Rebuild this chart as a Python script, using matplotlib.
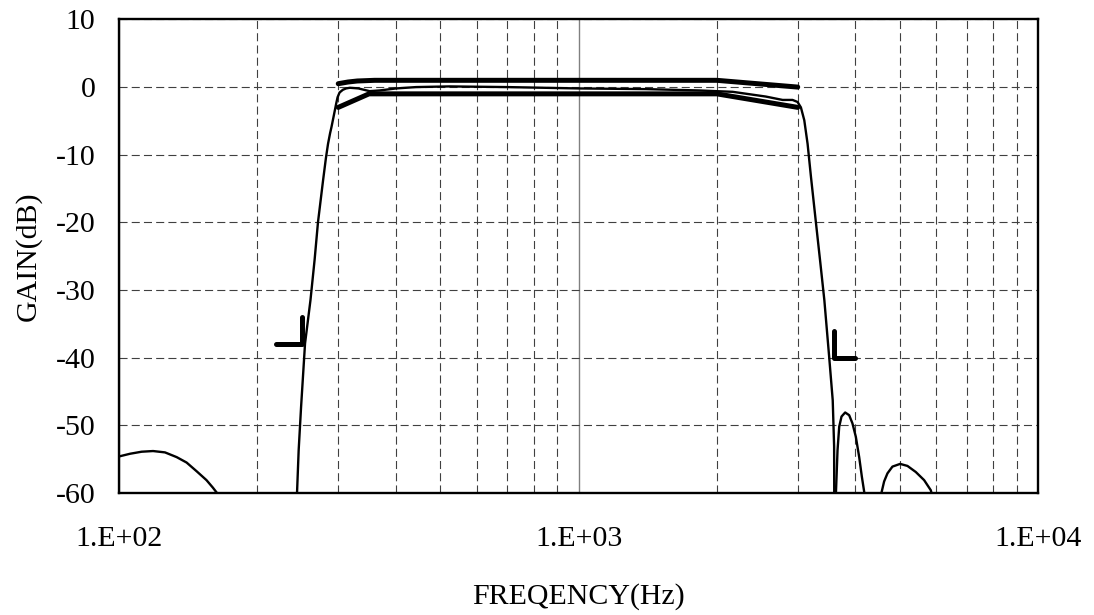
import matplotlib
matplotlib.use("Agg")
import matplotlib.pyplot as plt
from matplotlib.ticker import FixedLocator, FixedFormatter, NullFormatter

plt.rcParams['font.family'] = ['Liberation Serif', 'DejaVu Serif']
plt.rcParams['lines.scale_dashes'] = False
plt.rcParams['axes.unicode_minus'] = False

# filter response (thin line), split where it leaves the plot at -60 dB
low_lobe_f = [100, 105.7, 112, 118.6, 125.9, 133.5, 140.3, 147.6, 155, 160, 163.4, 166]
low_lobe_db = [-54.6, -54.2, -53.9, -53.8, -54.0, -54.7, -55.5, -56.8, -58.1,
               -59.2, -60.0, -61.0]

pass_f = [243, 244, 246, 249, 254, 261, 266.5, 271, 278, 282, 285, 288, 290,
          293, 295, 297, 299, 302, 307, 312, 318, 332, 351, 369, 401, 443,
          524, 700, 1000, 1400, 1832, 2165, 2556, 2781, 2923, 2997, 3048,
          3100, 3152, 3206, 3286, 3360, 3428, 3513, 3575, 3600, 3602, 3603]
pass_db = [-62, -60.0, -53.7, -47.3, -37.9, -31.5, -25.5, -20.0, -13.8, -10.5,
           -8.4, -6.8, -5.9, -4.4, -3.4, -2.4, -1.5, -0.8, -0.4, -0.2, -0.1,
           -0.2, -0.6, -0.5, -0.2, 0.0, 0.1, 0.0, -0.2, -0.3, -0.5, -0.7,
           -1.4, -1.9, -1.9, -2.2, -3.0, -4.9, -8.4, -13.3, -20.0, -26.0,
           -31.5, -40.0, -46.3, -53.1, -60.0, -62]

lobe1_f = [3630, 3633, 3662, 3693, 3736, 3805, 3882, 3946, 4014, 4082, 4137,
           4185, 4195]
lobe1_db = [-62, -60.0, -53.7, -50.2, -48.7, -48.1, -48.5, -49.7, -51.7, -54.7,
            -57.6, -59.8, -61]

lobe2_f = [4545, 4563, 4625, 4703, 4822, 5012, 5199, 5421, 5652, 5845, 5880]
lobe2_db = [-61.5, -60.0, -58.3, -57.1, -56.1, -55.7, -56.0, -56.9, -58.1,
            -59.6, -60.3]

# passband mask (thick lines)
upper_f = [300, 315, 330, 360, 2000, 3000]
upper_db = [0.5, 0.75, 0.9, 1.0, 1.0, 0.0]
lower_f = [300, 350, 2000, 3000]
lower_db = [-3.0, -1.0, -1.0, -3.0]

# stopband corner markers
left_mark_f = [220, 250, 250]
left_mark_db = [-38, -38, -34]
right_mark_f = [3600, 3600, 4000]
right_mark_db = [-36, -40, -40]

x_ticks = [100, 1000, 10000]
x_labels = ['1.E+02', '1.E+03', '1.E+04']
x_minor = [200, 300, 400, 500, 600, 700, 800, 900,
           2000, 3000, 4000, 5000, 6000, 7000, 8000, 9000]
y_ticks = [10, 0, -10, -20, -30, -40, -50, -60]

fig = plt.figure(figsize=(10.94, 6.15), dpi=100)
ax = fig.add_axes([0.1088, 0.1984, 0.8400, 0.7700])
ax.set_xscale('log')
ax.set_xlim(100, 10000)
ax.set_ylim(-60, 10)

ax.xaxis.set_major_locator(FixedLocator(x_ticks))
ax.xaxis.set_major_formatter(FixedFormatter(x_labels))
ax.xaxis.set_minor_locator(FixedLocator(x_minor))
ax.xaxis.set_minor_formatter(NullFormatter())
ax.set_yticks(y_ticks)

grid_dash = (0, (5.8, 3.0))
ax.xaxis.grid(True, which='minor', color='#404040', lw=0.8, linestyle=grid_dash)
ax.xaxis.grid(True, which='major', color='#808080', lw=1.0, linestyle='-')
ax.yaxis.grid(True, which='major', color='#404040', lw=0.8, linestyle=grid_dash)
ax.set_axisbelow(True)

thin = dict(color='black', lw=1.7, solid_joinstyle='round')
ax.plot(low_lobe_f, low_lobe_db, **thin)
ax.plot(pass_f, pass_db, **thin)
ax.plot(lobe1_f, lobe1_db, **thin)
ax.plot(lobe2_f, lobe2_db, **thin)

thick = dict(color='black', lw=3.6, solid_capstyle='round', solid_joinstyle='round')
ax.plot(upper_f, upper_db, **thick)
ax.plot(lower_f, lower_db, **thick)
ax.plot(left_mark_f, left_mark_db, **thick)
ax.plot(right_mark_f, right_mark_db, **thick)

for s in ax.spines.values():
    s.set_linewidth(1.7)
    s.set_color('black')

ax.tick_params(axis='both', which='both', length=0, labelsize=21.5)
ax.tick_params(axis='x', pad=24)
ax.tick_params(axis='y', pad=17)

ax.set_xlabel('FREQENCY(Hz)', fontsize=21.5, labelpad=22)
ax.set_ylabel('GAIN(dB)', fontsize=21.5, labelpad=10)

fig.savefig('out.png', dpi=100)
